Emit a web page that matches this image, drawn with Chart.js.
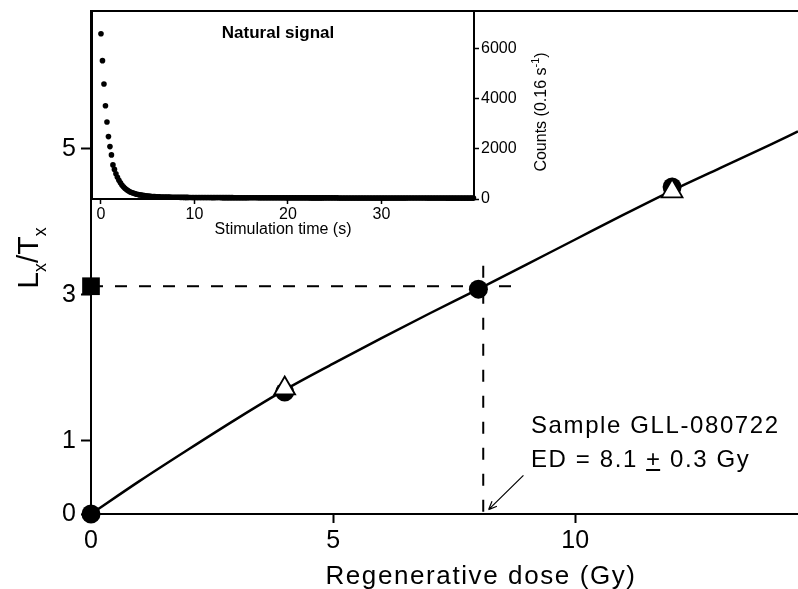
<!DOCTYPE html>
<html>
<head>
<meta charset="utf-8">
<title>Dose response curve</title>
<script src="https://cdn.jsdelivr.net/npm/chart.js@4.4.1/dist/chart.umd.min.js"></script>
<style>
  html, body { margin: 0; padding: 0; background: #fff; overflow: hidden; }
  #wrap { position: relative; width: 798px; height: 589px; }
  #main { position: absolute; left: 0; top: 0; }
  #inset { position: absolute; left: 60px; top: 0; }
</style>
</head>
<body>
<div id="wrap">
  <canvas id="main" width="798" height="589"></canvas>
  <canvas id="inset" width="520" height="240"></canvas>
</div>
<script>
// main plot: dose response
const doseTicks = [0, 5, 10];
const ratioTicks = [0, 1, 3, 5];
const regenDose = [0, 4, 8, 12];
const regenRatio = [0, 1.67, 3.08, 4.48];
const recycleDose = [4, 12];
const recycleRatio = [1.72, 4.42];
const naturalDose = [0];
const naturalRatio = [3.12];
const curveDose = [0, 1, 2, 3, 4, 5, 6, 7, 8, 9, 10, 11, 12, 13, 14, 14.6];
const curveRatio = [0, 0.45, 0.88, 1.30, 1.70, 2.06, 2.41, 2.75, 3.08, 3.42, 3.76, 4.10, 4.43, 4.74, 5.05, 5.24];
const edDose = 8.1;
const edLineTop = 3.40;
const naturalLineEnd = 8.7;
const arrowFrom = [8.93, 0.53];
const arrowTo = [8.21, 0.06];

// inset: natural OSL decay
const timeTicks = [0, 10, 20, 30];
const countTicks = [0, 2000, 4000, 6000];
const channelWidth = 0.16;
const counts = [
  6590, 5520, 4590, 3720, 3070, 2490, 2090, 1760, 1360, 1180,
  1010, 870, 745, 645, 560, 490, 430, 380, 340, 300,
  270, 245, 225, 205, 190, 176, 164, 153, 143, 134,
  126, 119, 113, 107, 102, 98, 94, 91, 88, 85,
  82, 80, 78, 77, 75, 74, 73, 71, 70, 69,
  68, 68, 67, 66, 65, 65, 64, 63, 63, 62,
  62, 61, 61, 60, 60, 59, 59, 59, 58, 58,
  58, 57, 57, 57, 56, 56, 56, 55, 55, 55,
  55, 54, 54, 54, 54, 53, 53, 53, 53, 52,
  52, 52, 52, 52, 51, 51, 51, 51, 51, 50,
  50, 50, 50, 50, 50, 49, 49, 49, 49, 49,
  49, 48, 48, 48, 48, 48, 48, 47, 47, 47,
  47, 47, 47, 47, 46, 46, 46, 46, 46, 46,
  46, 46, 45, 45, 45, 45, 45, 45, 45, 45,
  44, 44, 44, 44, 44, 44, 44, 44, 44, 43,
  43, 43, 43, 43, 43, 43, 43, 43, 43, 42,
  42, 42, 42, 42, 42, 42, 42, 42, 42, 42,
  41, 41, 41, 41, 41, 41, 41, 41, 41, 41,
  41, 40, 40, 40, 40, 40, 40, 40, 40, 40,
  40, 40, 40, 39, 39, 39, 39, 39, 39, 39,
  39, 39, 39, 39, 39, 38, 38, 38, 38, 38,
  38, 38, 38, 38, 38, 38, 38, 38, 37, 37,
  37, 37, 37, 37, 37, 37, 37, 37, 37, 37,
  37, 36, 36, 36, 36, 36, 36, 36, 36, 36,
  36, 36, 36, 36, 36, 36, 35, 35, 35, 35
];

const FONT = "'Liberation Sans', Arial, sans-serif";

function pts(xs, ys) {
  return xs.map(function(x, i) { return { x: x, y: ys[i] }; });
}

function fixedTicks(list) {
  return function(scale) { scale.ticks = list.map(function(v) { return { value: v }; }); };
}

// pin axis size and drop the automatic label padding so the plot box sits where it should
function fitX(h) {
  return function(s) { s.height = h; s.paddingLeft = 0; s.paddingRight = 0; };
}
function fitY(w) {
  return function(s) { s.width = w; s.paddingTop = 0; s.paddingBottom = 0; };
}

const mainDecor = {
  id: 'mainDecor',
  afterDraw: function(chart) {
    const ctx = chart.ctx;
    const area = chart.chartArea;
    const xs = chart.scales.x;
    const ys = chart.scales.y;
    ctx.save();
    ctx.strokeStyle = '#000';
    ctx.fillStyle = '#000';

    // top frame line
    ctx.lineWidth = 2;
    ctx.beginPath();
    ctx.moveTo(area.left - 1, area.top);
    ctx.lineTo(area.right, area.top);
    ctx.stroke();

    // arrow pointing at ED on the dose axis
    const ax0 = xs.getPixelForValue(arrowFrom[0]), ay0 = ys.getPixelForValue(arrowFrom[1]);
    const ax1 = xs.getPixelForValue(arrowTo[0]), ay1 = ys.getPixelForValue(arrowTo[1]);
    ctx.lineWidth = 1.2;
    ctx.beginPath();
    ctx.moveTo(ax0, ay0);
    ctx.lineTo(ax1, ay1);
    const ang = Math.atan2(ay1 - ay0, ax1 - ax0);
    ctx.moveTo(ax1, ay1);
    ctx.lineTo(ax1 - 9 * Math.cos(ang - 0.4), ay1 - 9 * Math.sin(ang - 0.4));
    ctx.moveTo(ax1, ay1);
    ctx.lineTo(ax1 - 9 * Math.cos(ang + 0.4), ay1 - 9 * Math.sin(ang + 0.4));
    ctx.stroke();

    // annotation
    ctx.letterSpacing = '1.6px';
    ctx.font = '24px ' + FONT;
    ctx.textAlign = 'left';
    ctx.textBaseline = 'alphabetic';
    ctx.fillText('Sample GLL-080722', 531, 433);
    const pre = 'ED = 8.1 ';
    ctx.fillText(pre + '+ 0.3 Gy', 531, 467);
    const px = 531 + ctx.measureText(pre).width;
    const pw = ctx.measureText('+').width - 1.6;
    ctx.fillRect(px, 469, pw, 2);

    // x title
    ctx.font = '26px ' + FONT;
    ctx.textAlign = 'center';
    ctx.fillText('Regenerative dose (Gy)', 481, 584);

    // y title L_x/T_x
    ctx.letterSpacing = '0px';
    const big = '30px ' + FONT, small = '18px ' + FONT;
    const parts = [['L', big, 0], ['x', small, 8], ['/T', big, 0], ['x', small, 8]];
    let len = 0;
    parts.forEach(function(p) { ctx.font = p[1]; len += ctx.measureText(p[0]).width; });
    ctx.translate(38, 258 + len / 2);
    ctx.rotate(-Math.PI / 2);
    ctx.textAlign = 'left';
    let cx = 0;
    parts.forEach(function(p) {
      ctx.font = p[1];
      ctx.fillText(p[0], cx, p[2]);
      cx += ctx.measureText(p[0]).width;
    });
    ctx.restore();
  }
};

new Chart(document.getElementById('main'), {
  type: 'scatter',
  data: {
    datasets: [
      {
        label: 'Natural',
        data: pts(naturalDose, naturalRatio),
        pointStyle: 'rect',
        pointRadius: 12.5,
        backgroundColor: '#000',
        borderColor: '#000',
        borderWidth: 0,
        clip: false,
        order: 0
      },
      {
        label: 'Recycled',
        data: pts(recycleDose, recycleRatio),
        pointStyle: 'triangle',
        pointRadius: 12,
        backgroundColor: '#fff',
        borderColor: '#000',
        borderWidth: 1.8,
        clip: false,
        order: 1
      },
      {
        label: 'Regenerated',
        data: pts(regenDose, regenRatio),
        pointStyle: 'circle',
        pointRadius: 9.5,
        backgroundColor: '#000',
        borderColor: '#000',
        borderWidth: 0,
        clip: false,
        order: 2
      },
      {
        label: 'Fit',
        data: pts(curveDose, curveRatio),
        showLine: true,
        cubicInterpolationMode: 'monotone',
        pointRadius: 0,
        borderColor: '#000',
        borderWidth: 2.5,
        order: 3
      },
      {
        label: 'Natural level',
        data: pts([0, naturalLineEnd], [naturalRatio[0], naturalRatio[0]]),
        showLine: true,
        pointRadius: 0,
        borderColor: '#000',
        borderWidth: 2,
        borderDash: [12, 12],
        order: 4
      },
      {
        label: 'ED',
        data: pts([edDose, edDose], [edLineTop, 0]),
        showLine: true,
        pointRadius: 0,
        borderColor: '#000',
        borderWidth: 2,
        borderDash: [12, 14],
        order: 4
      }
    ]
  },
  options: {
    responsive: false,
    devicePixelRatio: 1,
    animation: false,
    events: [],
    layout: { autoPadding: false, padding: { top: 11, left: 0, right: 0, bottom: 0 } },
    plugins: { legend: { display: false }, tooltip: { enabled: false } },
    scales: {
      x: {
        type: 'linear',
        min: 0,
        max: 14.6,
        afterBuildTicks: fixedTicks(doseTicks),
        afterFit: fitX(75),
        border: { display: true, color: '#000', width: 2 },
        grid: { display: true, drawOnChartArea: false, tickLength: 9, tickWidth: 2, color: '#000' },
        ticks: { color: '#000', font: { family: FONT, size: 25 }, padding: 3, maxRotation: 0 }
      },
      y: {
        type: 'linear',
        min: 0,
        max: 6.89,
        afterBuildTicks: fixedTicks(ratioTicks),
        afterFit: fitY(91),
        border: { display: true, color: '#000', width: 2 },
        grid: { display: true, drawOnChartArea: false, tickLength: 10, tickWidth: 2, color: '#000' },
        ticks: { color: '#000', font: { family: FONT, size: 25 }, padding: 5 }
      }
    }
  },
  plugins: [mainDecor]
});

const insetDecor = {
  id: 'insetDecor',
  afterDraw: function(chart) {
    const ctx = chart.ctx;
    const area = chart.chartArea;
    ctx.save();
    ctx.strokeStyle = '#000';
    ctx.fillStyle = '#000';
    ctx.lineWidth = 2;
    ctx.beginPath();
    ctx.moveTo(area.left, area.bottom);
    ctx.lineTo(area.left, area.top);
    ctx.lineTo(area.right, area.top);
    ctx.stroke();

    ctx.font = 'bold 17px ' + FONT;
    ctx.textAlign = 'center';
    ctx.textBaseline = 'alphabetic';
    ctx.fillText('Natural signal', 218, 38);

    // right axis title with superscript
    const norm = '16px ' + FONT, sup = '11px ' + FONT;
    const parts = [['Counts (0.16 s', norm, 0], ['-1', sup, -7], [')', norm, 0]];
    let len = 0;
    parts.forEach(function(p) { ctx.font = p[1]; len += ctx.measureText(p[0]).width; });
    ctx.translate(486, 112 + len / 2);
    ctx.rotate(-Math.PI / 2);
    ctx.textAlign = 'left';
    let cx = 0;
    parts.forEach(function(p) {
      ctx.font = p[1];
      ctx.fillText(p[0], cx, p[2]);
      cx += ctx.measureText(p[0]).width;
    });
    ctx.restore();
  }
};

new Chart(document.getElementById('inset'), {
  type: 'scatter',
  data: {
    datasets: [{
      label: 'Natural signal',
      data: counts.map(function(c, i) { return { x: i * channelWidth, y: c }; }),
      pointRadius: 2.8,
      backgroundColor: '#000',
      borderWidth: 0,
      clip: 4
    }]
  },
  options: {
    responsive: false,
    devicePixelRatio: 1,
    animation: false,
    events: [],
    layout: { autoPadding: false, padding: { top: 11, left: 32, right: 0, bottom: 0 } },
    plugins: { legend: { display: false }, tooltip: { enabled: false } },
    scales: {
      x: {
        type: 'linear',
        min: -0.96,
        max: 39.9,
        afterBuildTicks: fixedTicks(timeTicks),
        afterFit: fitX(41),
        border: { display: true, color: '#000', width: 2 },
        grid: { display: true, drawOnChartArea: false, tickLength: 5, tickWidth: 1.5, color: '#000' },
        ticks: { color: '#000', font: { family: FONT, size: 16 }, padding: 1, maxRotation: 0 },
        title: { display: true, text: 'Stimulation time (s)', color: '#000', font: { family: FONT, size: 16 }, padding: { top: 0, bottom: 1 } }
      },
      y: {
        type: 'linear',
        position: 'right',
        min: 0,
        max: 7500,
        afterBuildTicks: fixedTicks(countTicks),
        afterFit: fitY(106),
        border: { display: true, color: '#000', width: 2 },
        grid: { display: true, drawOnChartArea: false, tickLength: 5, tickWidth: 1.5, color: '#000' },
        ticks: {
          color: '#000',
          font: { family: FONT, size: 16 },
          padding: 2,
          callback: function(v) { return String(v); }
        }
      }
    }
  },
  plugins: [insetDecor]
});
</script>
</body>
</html>
